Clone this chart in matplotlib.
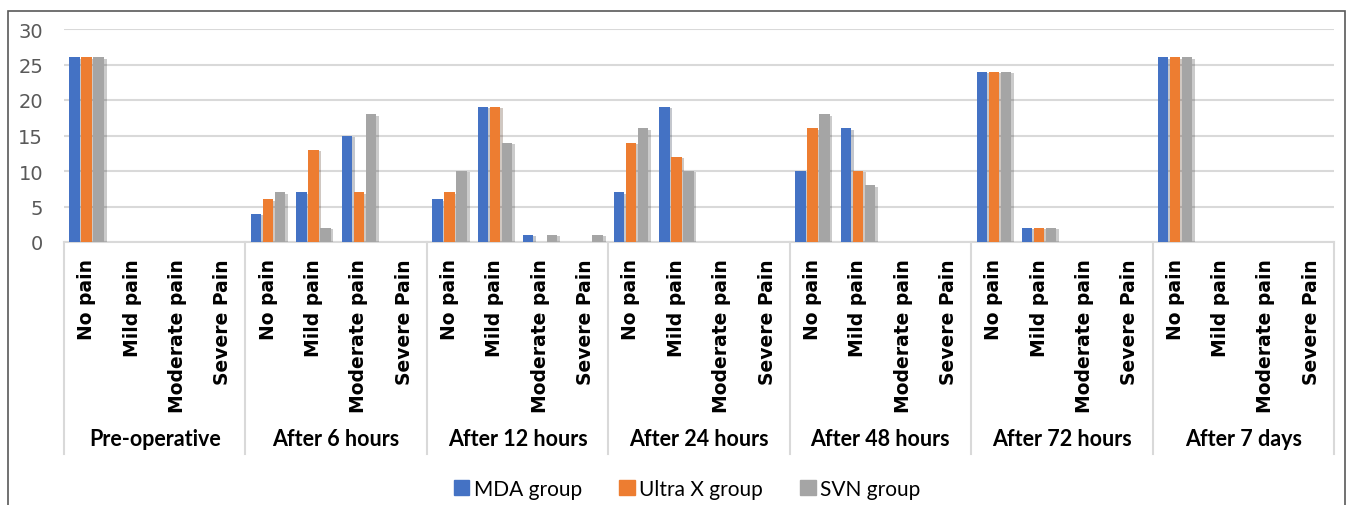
import matplotlib
matplotlib.use('Agg')
import matplotlib.pyplot as plt
import matplotlib.transforms as mtransforms
import matplotlib.patheffects as pe
from matplotlib.patches import Patch, Rectangle
from matplotlib.lines import Line2D
import numpy as np

groups = ['Pre-operative', 'After 6 hours', 'After 12 hours', 'After 24 hours',
          'After 48 hours', 'After 72 hours', 'After 7 days']
levels = ['No pain', 'Mild pain', 'Moderate pain', 'Severe Pain']
series_names = ['MDA group', 'Ultra X group', 'SVN group']
mda = [26, 0, 0, 0, 4, 7, 15, 0, 6, 19, 1, 0, 7, 19, 0, 0, 10, 16, 0, 0, 24, 2, 0, 0, 26, 0, 0, 0]
ultrax = [26, 0, 0, 0, 6, 13, 7, 0, 7, 19, 0, 0, 14, 12, 0, 0, 16, 10, 0, 0, 24, 2, 0, 0, 26, 0, 0, 0]
svn = [26, 0, 0, 0, 7, 2, 18, 0, 10, 14, 1, 1, 16, 10, 0, 0, 18, 8, 0, 0, 24, 2, 0, 0, 26, 0, 0, 0]
yticks = [0, 5, 10, 15, 20, 25, 30]
colors = ['#4472C4', '#ED7D31', '#A5A5A5']

W, H = 1346, 506
fig = plt.figure(figsize=(W / 100, H / 100), dpi=100)
ax = fig.add_axes([64 / W, 1 - 243 / H, 1270 / W, 213 / H])

n = len(groups) * len(levels)
x = np.arange(n)
width = 0.23
offsets = [-0.265, 0, 0.265]
for vals, off, c, name in zip([mda, ultrax, svn], offsets, colors, series_names):
    bars = ax.bar(x + off, vals, width=width, color=c, label=name, zorder=3)
    for b in bars:
        b.set_path_effects([pe.SimplePatchShadow(offset=(2, -1), alpha=0.25), pe.Normal()])

ax.set_xlim(-0.5, n - 0.5)
ax.set_ylim(0, 30)
ax.set_yticks(yticks)
ax.set_xticks([])
ax.grid(axis='y', color='#D9D9D9', lw=1.5, zorder=0)
ax.set_axisbelow(True)
for s in ['top', 'right', 'left']:
    ax.spines[s].set_visible(False)
ax.spines['bottom'].set_color('#D9D9D9')
ax.spines['bottom'].set_linewidth(1.5)
ax.tick_params(axis='y', length=0, labelsize=14, labelcolor='#595959', pad=15)

trans = mtransforms.blended_transform_factory(ax.transData, fig.transFigure)
for i in range(n):
    ax.text(i, 1 - 259 / H, levels[i % 4], rotation=90, ha='center', va='top',
            transform=trans, fontsize=13.5, fontweight='bold', family='DejaVu Sans', color='#000000')

for k in range(len(groups) + 1):
    xb = k * 4 - 0.5
    ax.add_line(Line2D([xb, xb], [1 - 243 / H, 1 - 455 / H], transform=trans,
                       color='#D9D9D9', lw=1.5, clip_on=False))
for k, g in enumerate(groups):
    ax.text(k * 4 + 1.5, 1 - 440 / H, g, ha='center', va='center', transform=trans,
            fontsize=15.5, fontweight='bold', family='Lato', color='#000000')

handles = [Patch(color=c) for c in colors]
fig.legend(handles, series_names, loc='center', bbox_to_anchor=(687 / W, 1 - 490 / H),
           ncol=3, frameon=False, prop={'family': 'Lato', 'size': 15},
           handlelength=0.75, handleheight=0.75, columnspacing=1.8, handletextpad=0.2)

fig.add_artist(Rectangle((8 / W, -0.1), 1337 / W, 1.1 - 12 / H, transform=fig.transFigure,
                         fill=False, edgecolor='#595959', lw=1.2))

fig.savefig('out.png', dpi=100)
